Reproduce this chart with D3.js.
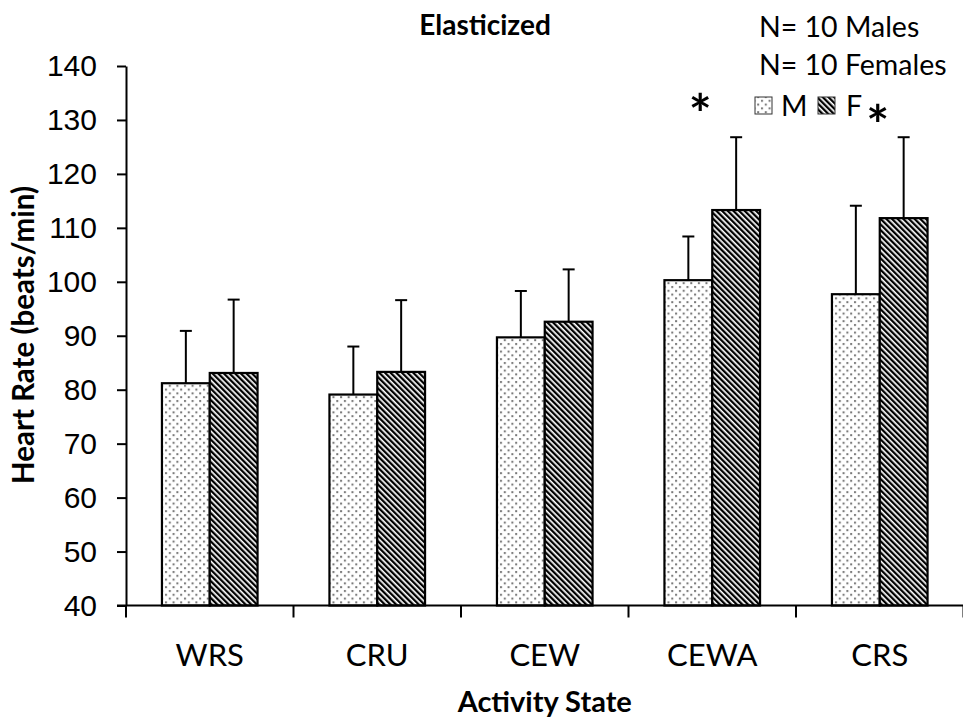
<!DOCTYPE html>
<html>
<head>
<meta charset="utf-8">
<script src="https://cdn.jsdelivr.net/npm/d3@7"></script>
<style>
  html, body { margin: 0; padding: 0; background: #fff; }
  svg { display: block; font-family: Lato, "Open Sans", sans-serif; }
</style>
</head>
<body>
<svg id="chart" width="963" height="722"></svg>
<script>
// Heart rate by activity state, elasticized condition
const categories = ["WRS", "CRU", "CEW", "CEWA", "CRS"];
const seriesKeys = ["M", "F"];
const maleMean   = [81.2, 79.1, 89.7, 100.3, 97.7];
const maleSD     = [9.7, 8.9, 8.6, 8.1, 16.4];
const femaleMean = [83.1, 83.3, 92.6, 113.3, 111.8];
const femaleSD   = [13.6, 13.3, 9.7, 13.5, 15.0];
const yTicks     = [40, 50, 60, 70, 80, 90, 100, 110, 120, 130, 140];
const significant = ["CEWA", "CRS"];

const svg = d3.select("#chart");

const margin = { left: 126, right: -0.5, top: 66, bottom: 116.5 };
const W = 963, H = 722;

const x = d3.scaleBand()
  .domain(categories)
  .range([margin.left, W - margin.right])
  .paddingInner(0).paddingOuter(0);

const xSub = d3.scaleBand()
  .domain(seriesKeys)
  .range([0, x.bandwidth()])
  .paddingInner(0).paddingOuter(0.752);

const y = d3.scaleLinear()
  .domain([40, 140])
  .range([H - margin.bottom, margin.top]);

// Fill patterns
const defs = svg.append("defs");
const dots = defs.append("pattern")
  .attr("id", "dots").attr("patternUnits", "userSpaceOnUse")
  .attr("width", 7.6).attr("height", 7.6);
dots.append("rect").attr("width", 7.6).attr("height", 7.6).attr("fill", "#fff");
dots.append("rect").attr("x", 1).attr("y", 1).attr("width", 2).attr("height", 2).attr("fill", "#777");
dots.append("rect").attr("x", 4.8).attr("y", 4.8).attr("width", 2).attr("height", 2).attr("fill", "#777");

const stripes = defs.append("pattern")
  .attr("id", "stripes").attr("patternUnits", "userSpaceOnUse")
  .attr("width", 4).attr("height", 4)
  .attr("patternTransform", "rotate(-45)");
stripes.append("rect").attr("width", 4).attr("height", 4).attr("fill", "#fff");
stripes.append("rect").attr("width", 2.3).attr("height", 4).attr("fill", "#000");

const fills = { M: "url(#dots)", F: "url(#stripes)" };

const rows = categories.map((c, i) => ({
  cat: c,
  values: [
    { key: "M", mean: maleMean[i], sd: maleSD[i] },
    { key: "F", mean: femaleMean[i], sd: femaleSD[i] }
  ]
}));

// Error bars (upper only), drawn beneath the bars
const groups = svg.append("g").selectAll("g")
  .data(rows).join("g")
  .attr("transform", d => `translate(${x(d.cat)},0)`);

const err = groups.selectAll("g.err")
  .data(d => d.values).join("g").attr("class", "err");
err.append("line")
  .attr("x1", d => xSub(d.key) + xSub.bandwidth() / 2)
  .attr("x2", d => xSub(d.key) + xSub.bandwidth() / 2)
  .attr("y1", d => y(d.mean))
  .attr("y2", d => y(d.mean + d.sd))
  .attr("stroke", "#000").attr("stroke-width", 2);
err.append("line")
  .attr("x1", d => xSub(d.key) + xSub.bandwidth() / 2 - 6)
  .attr("x2", d => xSub(d.key) + xSub.bandwidth() / 2 + 6)
  .attr("y1", d => y(d.mean + d.sd))
  .attr("y2", d => y(d.mean + d.sd))
  .attr("stroke", "#000").attr("stroke-width", 2);

groups.selectAll("rect")
  .data(d => d.values).join("rect")
  .attr("x", d => xSub(d.key))
  .attr("y", d => y(d.mean))
  .attr("width", xSub.bandwidth())
  .attr("height", d => y(40) - y(d.mean))
  .attr("fill", d => fills[d.key])
  .attr("stroke", "#000").attr("stroke-width", 2.2);

// Y axis
const yAxis = svg.append("g")
  .attr("transform", `translate(${margin.left},0)`)
  .call(d3.axisLeft(y).tickValues(yTicks).tickSize(9).tickPadding(20).tickSizeOuter(0));
yAxis.select(".domain").attr("stroke-width", 2);
yAxis.selectAll(".tick line").attr("stroke-width", 2);
yAxis.selectAll("text").attr("font-size", 30).attr("fill", "#000");

// X axis with ticks at category boundaries
const xAxisG = svg.append("g")
  .attr("transform", `translate(0,${y(40)})`);
xAxisG.append("line")
  .attr("x1", margin.left - 9).attr("x2", W)
  .attr("stroke", "#000").attr("stroke-width", 2);
const bounds = categories.map(c => x(c)).concat([x(categories[categories.length - 1]) + x.bandwidth()]);
xAxisG.selectAll("line.tick")
  .data(bounds).join("line").attr("class", "tick")
  .attr("x1", d => d).attr("x2", d => d)
  .attr("y1", 0).attr("y2", 12)
  .attr("stroke", "#000").attr("stroke-width", 2);
xAxisG.selectAll("text")
  .data(categories).join("text")
  .attr("x", d => x(d) + x.bandwidth() / 2)
  .attr("y", 60.5)
  .attr("text-anchor", "middle")
  .attr("font-size", 31)
  .text(d => d);

// Titles
svg.append("text")
  .attr("x", 485).attr("y", 35)
  .attr("text-anchor", "middle")
  .attr("font-weight", "bold").attr("font-size", 28)
  .text("Elasticized");

svg.append("text")
  .attr("x", x("CEW") + x.bandwidth() / 2).attr("y", 712)
  .attr("text-anchor", "middle")
  .attr("font-weight", "bold").attr("font-size", 29)
  .text("Activity State");

svg.append("text")
  .attr("transform", `translate(34,335) rotate(-90)`)
  .attr("text-anchor", "middle")
  .attr("font-weight", "bold").attr("font-size", 29.5)
  .text("Heart Rate (beats/min)");

// Sample sizes
svg.append("text").attr("x", 759).attr("y", 37).attr("font-size", 28.5).text("N= 10 Males");
svg.append("text").attr("x", 759).attr("y", 75).attr("font-size", 28.5).text("N= 10 Females");

// Legend
const legend = svg.append("g");
const legendItems = [
  { key: "M", bx: 755, tx: 781 },
  { key: "F", bx: 818, tx: 846 }
];
legend.selectAll("rect").data(legendItems).join("rect")
  .attr("x", d => d.bx).attr("y", 97)
  .attr("width", 17).attr("height", 17)
  .attr("fill", d => fills[d.key])
  .attr("stroke", "#333").attr("stroke-width", 1);
legend.selectAll("text").data(legendItems).join("text")
  .attr("x", d => d.tx).attr("y", 115.5)
  .attr("font-size", 28.5)
  .text(d => d.key);

// Significance markers
const starOffsets = { CEWA: { dx: -12, y: 133 }, CRS: { dx: -2, y: 144 } };
svg.selectAll("text.star").data(significant).join("text")
  .attr("class", "star")
  .attr("x", d => x(d) + x.bandwidth() / 2 + starOffsets[d].dx)
  .attr("y", d => starOffsets[d].y)
  .attr("text-anchor", "middle")
  .attr("font-weight", "bold").attr("font-size", 54)
  .text("*");
</script>
</body>
</html>
